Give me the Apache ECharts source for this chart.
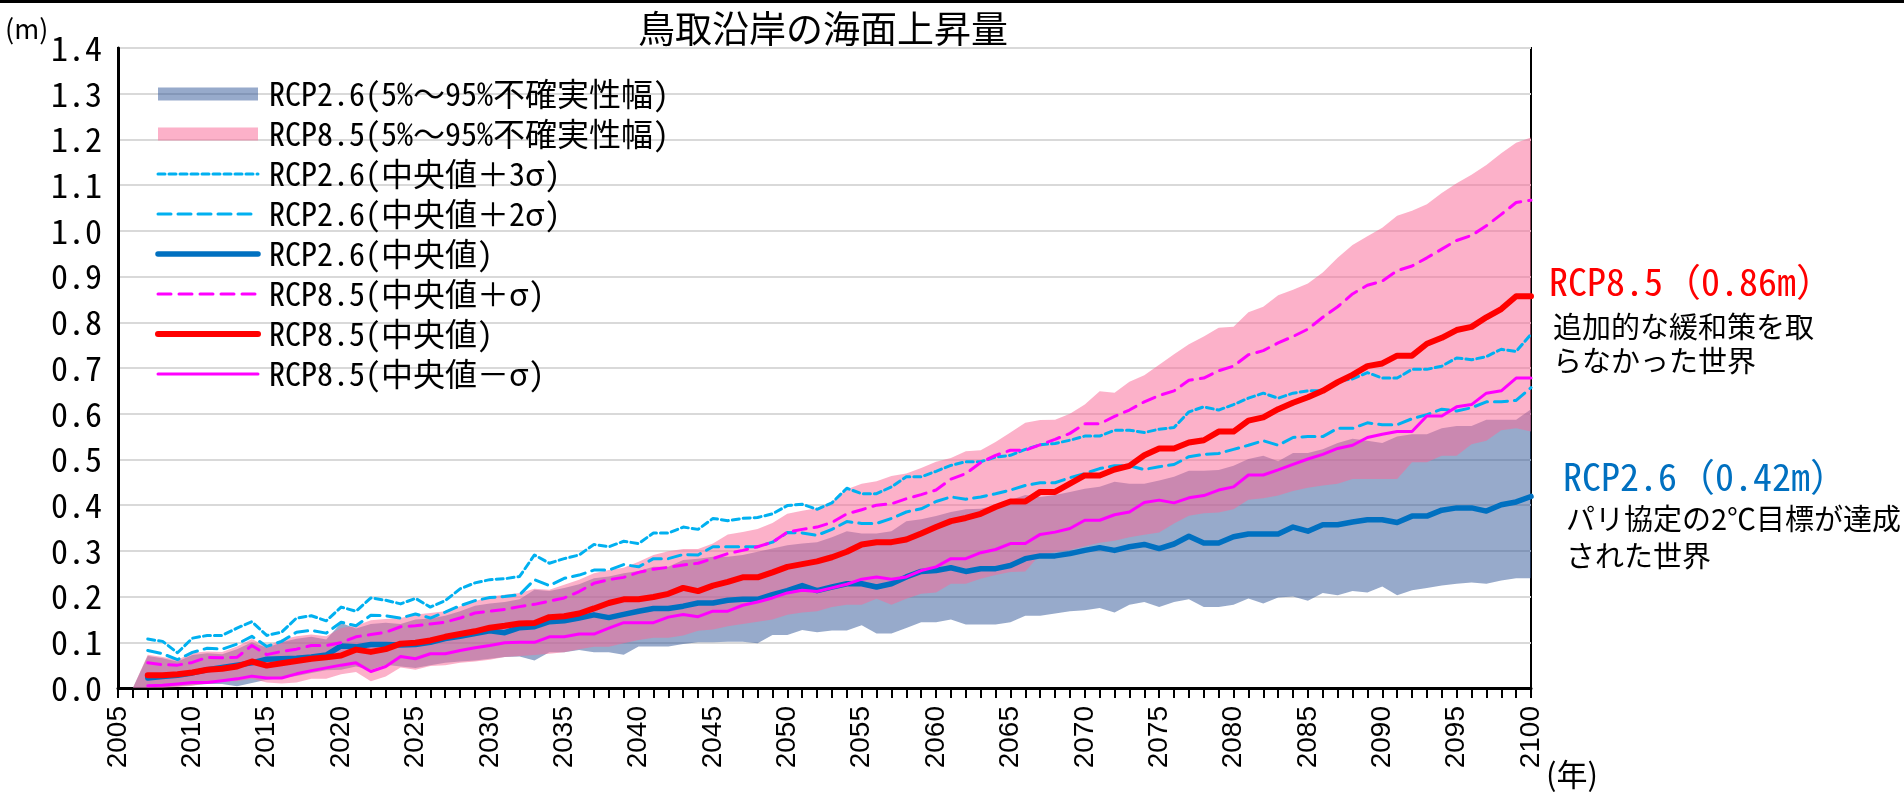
<!DOCTYPE html>
<html>
<head>
<meta charset="utf-8">
<script src="https://cdn.jsdelivr.net/npm/echarts@6/dist/echarts.min.js"></script>
<style>
  html, body { margin: 0; padding: 0; background: #fff; }
  #chart { width: 1904px; height: 793px; }
</style>
</head>
<body>
<div id="chart"></div>
<script>
// 年 (横軸カテゴリ)
const years = []
for (let y = 2005; y <= 2100; y++) years.push(String(y))

// 中央値・σ系列 (2007〜2100)
const rcp85Median = [
  0.028, 0.028, 0.030, 0.034, 0.040, 0.042, 0.047, 0.058, 0.049, 0.054,
  0.059, 0.064, 0.067, 0.071, 0.084, 0.079, 0.085, 0.097, 0.099, 0.104,
  0.112, 0.118, 0.124, 0.132, 0.136, 0.141, 0.142, 0.155, 0.157, 0.163,
  0.174, 0.186, 0.194, 0.194, 0.199, 0.206, 0.219, 0.212, 0.224, 0.232,
  0.242, 0.242, 0.253, 0.265, 0.271, 0.277, 0.286, 0.298, 0.314, 0.319,
  0.319, 0.325, 0.338, 0.352, 0.365, 0.372, 0.381, 0.396, 0.408, 0.408,
  0.429, 0.429, 0.447, 0.465, 0.465, 0.478, 0.486, 0.509, 0.524, 0.524,
  0.537, 0.542, 0.561, 0.561, 0.585, 0.592, 0.610, 0.624, 0.636, 0.650,
  0.669, 0.685, 0.704, 0.710, 0.727, 0.727, 0.753, 0.766, 0.783, 0.790,
  0.811, 0.829, 0.857, 0.857
]
const rcp26Median = [
  0.022, 0.025, 0.028, 0.033, 0.040, 0.045, 0.050, 0.055, 0.063, 0.064,
  0.065, 0.068, 0.072, 0.092, 0.090, 0.095, 0.095, 0.094, 0.095, 0.100,
  0.108, 0.113, 0.119, 0.125, 0.121, 0.132, 0.134, 0.145, 0.147, 0.153,
  0.160, 0.154, 0.161, 0.168, 0.174, 0.174, 0.179, 0.186, 0.186, 0.192,
  0.194, 0.194, 0.204, 0.213, 0.224, 0.213, 0.221, 0.228, 0.228, 0.221,
  0.228, 0.243, 0.255, 0.257, 0.263, 0.255, 0.261, 0.261, 0.268, 0.283,
  0.289, 0.289, 0.294, 0.301, 0.307, 0.301, 0.309, 0.314, 0.305, 0.315,
  0.332, 0.317, 0.317, 0.331, 0.337, 0.337, 0.337, 0.352, 0.343, 0.357,
  0.357, 0.363, 0.368, 0.368, 0.362, 0.376, 0.376, 0.389, 0.394, 0.394,
  0.387, 0.401, 0.407, 0.419
]
const rcp85Minus = [
  0.005, 0.006, 0.009, 0.012, 0.012, 0.016, 0.020, 0.026, 0.022, 0.022,
  0.031, 0.038, 0.044, 0.050, 0.055, 0.036, 0.047, 0.069, 0.064, 0.075,
  0.075, 0.082, 0.088, 0.093, 0.099, 0.100, 0.100, 0.112, 0.112, 0.118,
  0.118, 0.131, 0.143, 0.143, 0.143, 0.155, 0.161, 0.156, 0.168, 0.168,
  0.181, 0.188, 0.197, 0.208, 0.214, 0.211, 0.219, 0.227, 0.238, 0.243,
  0.238, 0.243, 0.257, 0.265, 0.283, 0.283, 0.296, 0.303, 0.316, 0.316,
  0.336, 0.341, 0.349, 0.367, 0.367, 0.379, 0.385, 0.406, 0.411, 0.405,
  0.416, 0.421, 0.433, 0.440, 0.466, 0.466, 0.477, 0.489, 0.501, 0.511,
  0.524, 0.531, 0.548, 0.555, 0.561, 0.561, 0.595, 0.595, 0.615, 0.620,
  0.645, 0.650, 0.678, 0.678
]
const rcp85Plus = [
  0.055, 0.051, 0.050, 0.056, 0.067, 0.066, 0.067, 0.093, 0.073, 0.080,
  0.085, 0.093, 0.093, 0.099, 0.112, 0.117, 0.122, 0.134, 0.136, 0.140,
  0.144, 0.153, 0.164, 0.168, 0.172, 0.178, 0.183, 0.190, 0.197, 0.211,
  0.229, 0.237, 0.242, 0.253, 0.260, 0.264, 0.269, 0.273, 0.283, 0.294,
  0.301, 0.309, 0.319, 0.341, 0.347, 0.352, 0.362, 0.381, 0.390, 0.400,
  0.403, 0.414, 0.423, 0.433, 0.457, 0.469, 0.493, 0.509, 0.520, 0.520,
  0.532, 0.544, 0.557, 0.578, 0.578, 0.594, 0.608, 0.626, 0.640, 0.650,
  0.673, 0.678, 0.694, 0.704, 0.729, 0.738, 0.755, 0.769, 0.785, 0.811,
  0.834, 0.862, 0.881, 0.890, 0.913, 0.923, 0.941, 0.960, 0.979, 0.990,
  1.011, 1.036, 1.062, 1.067
]
const rcp26Plus3 = [
  0.107, 0.102, 0.077, 0.109, 0.115, 0.115, 0.131, 0.145, 0.115, 0.122,
  0.153, 0.158, 0.147, 0.177, 0.168, 0.197, 0.192, 0.184, 0.196, 0.177,
  0.191, 0.217, 0.230, 0.237, 0.239, 0.244, 0.291, 0.273, 0.283, 0.291,
  0.314, 0.309, 0.321, 0.316, 0.339, 0.339, 0.352, 0.347, 0.371, 0.366,
  0.371, 0.373, 0.381, 0.399, 0.402, 0.391, 0.405, 0.437, 0.425, 0.425,
  0.440, 0.462, 0.462, 0.474, 0.487, 0.495, 0.495, 0.505, 0.509, 0.522,
  0.532, 0.535, 0.542, 0.551, 0.551, 0.564, 0.564, 0.559, 0.566, 0.570,
  0.604, 0.615, 0.608, 0.620, 0.634, 0.645, 0.634, 0.645, 0.650, 0.650,
  0.671, 0.676, 0.690, 0.678, 0.678, 0.697, 0.697, 0.704, 0.722, 0.718,
  0.725, 0.741, 0.736, 0.774
]
const rcp26Plus2 = [
  0.082, 0.075, 0.062, 0.078, 0.087, 0.085, 0.096, 0.113, 0.091, 0.102,
  0.122, 0.126, 0.120, 0.144, 0.136, 0.159, 0.158, 0.153, 0.162, 0.153,
  0.166, 0.180, 0.191, 0.198, 0.200, 0.204, 0.237, 0.224, 0.240, 0.247,
  0.258, 0.258, 0.270, 0.265, 0.283, 0.283, 0.292, 0.291, 0.309, 0.309,
  0.309, 0.309, 0.319, 0.340, 0.339, 0.334, 0.347, 0.364, 0.360, 0.360,
  0.371, 0.385, 0.392, 0.408, 0.418, 0.413, 0.418, 0.425, 0.433, 0.443,
  0.449, 0.449, 0.460, 0.469, 0.480, 0.486, 0.486, 0.478, 0.484, 0.489,
  0.506, 0.511, 0.513, 0.522, 0.531, 0.541, 0.531, 0.548, 0.550, 0.550,
  0.568, 0.568, 0.580, 0.576, 0.576, 0.589, 0.598, 0.610, 0.606, 0.613,
  0.626, 0.626, 0.629, 0.657
]

// 5%〜95%不確実性幅 (2006〜2100)
const rcp85High = [
  0, 0.073, 0.068, 0.062, 0.077, 0.080, 0.079, 0.091, 0.107, 0.091, 0.106,
  0.113, 0.117, 0.113, 0.131, 0.136, 0.148, 0.151, 0.153, 0.161, 0.164,
  0.168, 0.179, 0.190, 0.200, 0.204, 0.208, 0.217, 0.215, 0.226, 0.237,
  0.251, 0.258, 0.263, 0.276, 0.291, 0.299, 0.304, 0.304, 0.316, 0.336,
  0.341, 0.348, 0.361, 0.381, 0.388, 0.393, 0.408, 0.435, 0.447, 0.452,
  0.464, 0.469, 0.481, 0.495, 0.503, 0.518, 0.520, 0.538, 0.559, 0.580,
  0.586, 0.587, 0.600, 0.620, 0.649, 0.646, 0.670, 0.684, 0.707, 0.730,
  0.752, 0.769, 0.788, 0.790, 0.822, 0.834, 0.859, 0.871, 0.885, 0.909,
  0.941, 0.969, 0.988, 1.007, 1.033, 1.044, 1.058, 1.083, 1.104, 1.123,
  1.144, 1.170, 1.193, 1.204
]
const rcp85Low = [
  0, 0.000, 0.000, 0.002, 0.005, 0.010, 0.015, 0.015, 0.020, 0.012, 0.010,
  0.012, 0.020, 0.020, 0.030, 0.035, 0.015, 0.025, 0.045, 0.040, 0.048,
  0.050, 0.055, 0.058, 0.062, 0.068, 0.070, 0.072, 0.075, 0.078, 0.085,
  0.090, 0.090, 0.098, 0.105, 0.110, 0.110, 0.115, 0.125, 0.128, 0.135,
  0.140, 0.145, 0.150, 0.160, 0.165, 0.168, 0.177, 0.182, 0.182, 0.195,
  0.182, 0.195, 0.206, 0.209, 0.228, 0.228, 0.239, 0.247, 0.254, 0.255,
  0.292, 0.297, 0.302, 0.310, 0.318, 0.322, 0.330, 0.335, 0.340, 0.360,
  0.377, 0.382, 0.384, 0.391, 0.412, 0.415, 0.421, 0.431, 0.438, 0.443,
  0.447, 0.457, 0.457, 0.457, 0.457, 0.494, 0.494, 0.508, 0.508, 0.533,
  0.541, 0.564, 0.568, 0.561
]
const rcp26High = [
  0, 0.070, 0.065, 0.058, 0.072, 0.076, 0.074, 0.085, 0.100, 0.088, 0.100,
  0.108, 0.112, 0.106, 0.142, 0.130, 0.140, 0.143, 0.140, 0.150, 0.152,
  0.158, 0.168, 0.180, 0.185, 0.188, 0.194, 0.215, 0.212, 0.219, 0.227,
  0.240, 0.244, 0.251, 0.256, 0.265, 0.265, 0.280, 0.283, 0.287, 0.287,
  0.291, 0.298, 0.305, 0.312, 0.316, 0.319, 0.330, 0.343, 0.338, 0.338,
  0.343, 0.365, 0.369, 0.376, 0.385, 0.391, 0.392, 0.400, 0.411, 0.422,
  0.418, 0.422, 0.429, 0.436, 0.440, 0.451, 0.447, 0.447, 0.454, 0.462,
  0.475, 0.475, 0.477, 0.486, 0.501, 0.508, 0.496, 0.514, 0.514, 0.522,
  0.536, 0.545, 0.541, 0.536, 0.550, 0.555, 0.555, 0.568, 0.573, 0.573,
  0.587, 0.587, 0.587, 0.610
]
const rcp26Low = [
  0, 0.000, 0.001, 0.004, 0.006, 0.009, 0.009, 0.004, 0.011, 0.018, 0.022,
  0.026, 0.033, 0.039, 0.040, 0.047, 0.040, 0.051, 0.047, 0.044, 0.050,
  0.055, 0.058, 0.060, 0.064, 0.068, 0.069, 0.060, 0.078, 0.078, 0.083,
  0.078, 0.078, 0.073, 0.091, 0.091, 0.091, 0.096, 0.100, 0.100, 0.101,
  0.101, 0.098, 0.116, 0.116, 0.127, 0.122, 0.126, 0.126, 0.137, 0.119,
  0.119, 0.131, 0.144, 0.144, 0.150, 0.139, 0.139, 0.139, 0.144, 0.158,
  0.158, 0.163, 0.168, 0.170, 0.175, 0.165, 0.182, 0.188, 0.177, 0.188,
  0.194, 0.177, 0.177, 0.182, 0.196, 0.185, 0.198, 0.200, 0.191, 0.208,
  0.203, 0.212, 0.209, 0.222, 0.203, 0.214, 0.219, 0.224, 0.228, 0.231,
  0.228, 0.235, 0.240, 0.240
]

// 等幅ゴシック(半角英数が細い)
const FONT_MONO = "'Noto Sans Mono CJK JP', 'Noto Sans CJK JP', sans-serif"
const FONT_JP = "'Noto Sans CJK JP', sans-serif"

const NAME_B26 = 'RCP2.6(5%～95%不確実性幅)'
const NAME_B85 = 'RCP8.5(5%～95%不確実性幅)'
const NAME_P3 = 'RCP2.6(中央値＋3σ)'
const NAME_P2 = 'RCP2.6(中央値＋2σ)'
const NAME_M26 = 'RCP2.6(中央値)'
const NAME_P85 = 'RCP8.5(中央値＋σ)'
const NAME_M85 = 'RCP8.5(中央値)'
const NAME_N85 = 'RCP8.5(中央値－σ)'

const BLUE_BAND = 'rgba(47,85,151,0.5)'
const PINK_BAND = 'rgba(249,105,151,0.52)'

// 2005, 2006 は線なし、帯は 2005 のみなし
const lineData = (arr) => [null, null].concat(arr)
const bandData = (arr) => [null].concat(arr)
const diff = (hi, lo) => hi.map((v, i) => +(v - lo[i]).toFixed(3))

function lineSeries(name, data, color, width, type) {
  return {
    name: name,
    type: 'line',
    data: lineData(data),
    symbol: 'none',
    itemStyle: { color: color },
    lineStyle: { color: color, width: width, type: type || 'solid', cap: 'round', join: 'round' },
  }
}

function bandSeries(name, stack, hi, lo, color) {
  return [
    {
      name: name + '_base',
      type: 'line',
      stack: stack,
      data: bandData(lo),
      symbol: 'none',
      silent: true,
      lineStyle: { opacity: 0 },
    },
    {
      name: name,
      type: 'line',
      stack: stack,
      data: bandData(diff(hi, lo)),
      symbol: 'none',
      silent: true,
      itemStyle: { color: color },
      lineStyle: { opacity: 0 },
      areaStyle: { color: color, opacity: 1 },
    },
  ]
}

const chart = echarts.init(document.getElementById('chart'))

const option = {
  animation: false,
  backgroundColor: '#fff',
  title: {
    text: '鳥取沿岸の海面上昇量',
    left: 818,
    top: 5,
    textAlign: 'center',
    textStyle: { fontFamily: FONT_JP, fontSize: 37, fontWeight: 'normal', color: '#000' },
  },
  legend: {
    orient: 'vertical',
    left: 155,
    top: 78,
    padding: 0,
    itemWidth: 100,
    itemHeight: 13,
    itemGap: 8,
    selectedMode: false,
    // 線の凡例は記号(丸)を消す
    itemStyle: { opacity: 0 },
    textStyle: { fontFamily: FONT_MONO, fontSize: 32, lineHeight: 30, color: '#000', padding: [0, 0, 0, 6] },
    data: [
      { name: NAME_B26, icon: 'rect', itemStyle: { color: BLUE_BAND, opacity: 1 } },
      { name: NAME_B85, icon: 'rect', itemStyle: { color: PINK_BAND, opacity: 1 } },
      { name: NAME_P3, lineStyle: { width: 3 } },
      { name: NAME_P2, lineStyle: { width: 3 } },
      { name: NAME_M26, lineStyle: { width: 5.5 } },
      { name: NAME_P85, lineStyle: { width: 3 } },
      { name: NAME_M85, lineStyle: { width: 6 } },
      { name: NAME_N85, lineStyle: { width: 3 } },
    ],
  },
  grid: {
    left: 118,
    right: 373,
    top: 48,
    bottom: 105,
    show: true,
    borderColor: '#000',
    borderWidth: 2,
  },
  xAxis: {
    type: 'category',
    data: years,
    boundaryGap: false,
    axisLine: { lineStyle: { color: '#000', width: 3 } },
    axisTick: { interval: 0, length: 10, lineStyle: { color: '#000', width: 2 } },
    axisLabel: {
      interval: 4,
      rotate: 90,
      margin: 18,
      fontFamily: "'Liberation Sans', Arial, sans-serif",
      fontSize: 28,
      color: '#000',
    },
    splitLine: { show: false },
  },
  yAxis: {
    type: 'value',
    min: 0,
    max: 1.4,
    interval: 0.1,
    axisLine: { show: true, lineStyle: { color: '#000', width: 3 } },
    axisTick: { show: false },
    axisLabel: {
      formatter: (v) => v.toFixed(1),
      fontFamily: FONT_MONO,
      fontSize: 34,
      color: '#000',
      margin: 16,
    },
    splitLine: { lineStyle: { color: '#d9d9d9', width: 2 } },
  },
  series: [
    ...bandSeries(NAME_B26, 'b26', rcp26High, rcp26Low, BLUE_BAND),
    ...bandSeries(NAME_B85, 'b85', rcp85High, rcp85Low, PINK_BAND),
    lineSeries(NAME_P3, rcp26Plus3, '#00B0F0', 3, [7, 4]),
    lineSeries(NAME_P2, rcp26Plus2, '#00B0F0', 3, [13, 7]),
    lineSeries(NAME_M26, rcp26Median, '#0070C0', 5.5),
    lineSeries(NAME_P85, rcp85Plus, '#FF00FF', 3, [13, 8]),
    lineSeries(NAME_M85, rcp85Median, '#FF0000', 6),
    lineSeries(NAME_N85, rcp85Minus, '#FF00FF', 3),
  ],
  graphic: [
    { type: 'line', shape: { x1: 0, y1: 1.5, x2: 1904, y2: 1.5 }, style: { stroke: '#000', lineWidth: 3 } },
    { type: 'text', x: 5, y: 29, style: { text: '(m)', fill: '#000', fontFamily: FONT_JP, fontSize: 27, verticalAlign: 'middle' } },
    { type: 'text', x: 1546, y: 774, style: { text: '(年)', fill: '#000', fontFamily: FONT_JP, fontSize: 31, verticalAlign: 'middle' } },
    { type: 'text', x: 1549, y: 282, style: { text: 'RCP8.5（0.86m）', fill: '#FF0000', fontFamily: FONT_MONO, fontSize: 38, verticalAlign: 'middle' } },
    { type: 'text', x: 1553, y: 327, style: { text: '追加的な緩和策を取', fill: '#000', fontFamily: FONT_JP, fontSize: 29, verticalAlign: 'middle' } },
    { type: 'text', x: 1553, y: 361, style: { text: 'らなかった世界', fill: '#000', fontFamily: FONT_JP, fontSize: 29, verticalAlign: 'middle' } },
    { type: 'text', x: 1563, y: 477, style: { text: 'RCP2.6（0.42m）', fill: '#0070C0', fontFamily: FONT_MONO, fontSize: 38, verticalAlign: 'middle' } },
    { type: 'text', x: 1566, y: 519, style: { text: 'パリ協定の2℃目標が達成', fill: '#000', fontFamily: FONT_JP, fontSize: 29, verticalAlign: 'middle' } },
    { type: 'text', x: 1566, y: 556, style: { text: 'された世界', fill: '#000', fontFamily: FONT_JP, fontSize: 29, verticalAlign: 'middle' } },
  ],
}

chart.setOption(option)

window.addEventListener('resize', function () {
  chart.resize()
})
</script>
</body>
</html>
